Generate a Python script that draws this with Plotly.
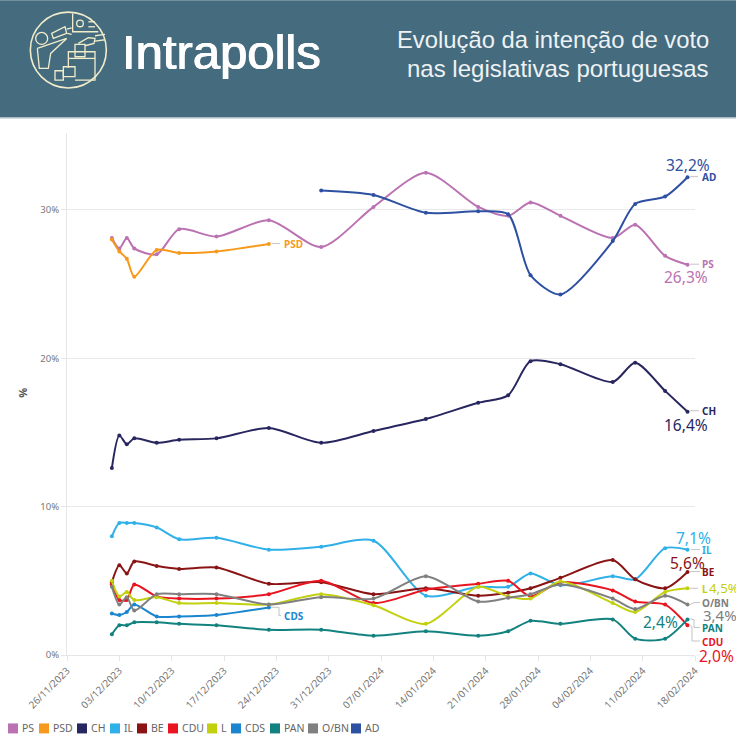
import plotly.graph_objects as go

W, H = 736, 743
X0, X1 = 67, 695
Y0, Y1 = 655.5, 133

dates = ["2023-12-02", "2023-12-03", "2023-12-04", "2023-12-05", "2023-12-08", "2023-12-11",
         "2023-12-16", "2023-12-23", "2023-12-30", "2024-01-06", "2024-01-13", "2024-01-20",
         "2024-01-24", "2024-01-27", "2024-01-31", "2024-02-07", "2024-02-10", "2024-02-14",
         "2024-02-17"]

ps = [28.1, 27.4, 28.1, 27.4, 27.0, 28.7, 28.2, 29.3, 27.5, 30.2, 32.5, 30.2, 29.6, 30.5, 29.6, 28.1, 29.0, 26.9, 26.3]
psd = [28.0, 27.2, 26.7, 25.5, 27.3, 27.1, 27.2, 27.7]
ch = [12.6, 14.8, 14.2, 14.6, 14.3, 14.5, 14.6, 15.3, 14.3, 15.1, 15.9, 17.0, 17.5, 19.8, 19.6, 18.4, 19.7, 17.8, 16.4]
il = [8.0, 8.9, 8.9, 8.9, 8.6, 7.8, 7.9, 7.1, 7.3, 7.7, 4.0, 4.6, 4.6, 5.5, 4.7, 5.3, 5.1, 7.2, 7.1]
be = [4.9, 6.05, 5.5, 6.3, 6.0, 5.8, 5.9, 4.8, 4.9, 4.1, 4.5, 4.0, 4.2, 4.5, 5.2, 6.4, 5.1, 4.5, 5.6]
cdu = [4.75, 3.7, 3.7, 4.75, 3.95, 3.8, 3.8, 4.1, 5.0, 3.5, 4.4, 4.8, 5.0, 3.95, 4.9, 4.35, 3.6, 3.4, 2.0]
l_ = [5.0, 3.95, 4.25, 3.7, 3.9, 3.5, 3.5, 3.4, 4.1, 3.35, 2.1, 4.6, 3.95, 3.8, 4.95, 3.5, 2.9, 4.25, 4.5]
cds = [2.8, 2.7, 2.9, 3.4, 2.6, 2.6, 2.7, 3.2]
pan = [1.4, 2.0, 2.0, 2.2, 2.2, 2.1, 2.0, 1.7, 1.7, 1.3, 1.6, 1.3, 1.6, 2.3, 2.1, 2.4, 1.1, 1.1, 2.4]
obn = [4.6, 3.4, 3.9, 3.0, 4.1, 4.1, 4.1, 3.4, 3.9, 3.8, 5.3, 3.6, 3.85, 4.1, 4.75, 3.8, 3.1, 4.0, 3.4]
ad_dates = dates[8:]
ad = [31.3, 31.0, 29.8, 29.9, 29.7, 25.6, 24.3, 27.9, 30.4, 30.9, 32.2]

y_ticks = [0, 10, 20, 30]
y_labels = ["0%", "10%", "20%", "30%"]

series = [
    ("PS", dates, ps, "#bb72b2"),
    ("PSD", dates[:8], psd, "#f7991c"),
    ("CH", dates, ch, "#27265f"),
    ("IL", dates, il, "#2fb0e8"),
    ("BE", dates, be, "#8a1414"),
    ("CDU", dates, cdu, "#e8141f"),
    ("L", dates, l_, "#c2d00e"),
    ("CDS", dates[:8], cds, "#1b86cf"),
    ("PAN", dates, pan, "#12827f"),
    ("O/BN", dates, obn, "#808080"),
    ("AD", ad_dates, ad, "#2e50a2"),
]
colors = {s[0]: s[3] for s in series}

legend_x = {"PS": 8, "PSD": 39, "CH": 77, "IL": 110, "BE": 137, "CDU": 168,
            "L": 207, "CDS": 231, "PAN": 270, "O/BN": 308, "AD": 351}


def px(x):
    return (x - X0) / (X1 - X0)


def py(y):
    return (Y0 - y) / (Y0 - Y1)


fig = go.Figure()
for name, xs, ys, color in series:
    fig.add_trace(go.Scatter(x=xs, y=ys, name=name, mode="lines+markers",
                             line=dict(color=color, width=2, shape="spline", smoothing=0.75),
                             marker=dict(color=color, size=4), showlegend=False))

shapes = []
annotations = []


def text(x, y, s, color, size, anchor="left", font="Noto Sans", bold=False, shadow=None):
    if bold:
        s = "<b>" + s + "</b>"
    f = dict(family=font, size=size, color=color)
    if shadow:
        f["shadow"] = shadow
    annotations.append(dict(x=px(x), y=py(y), xref="paper", yref="paper", text=s, showarrow=False,
                            xanchor=anchor, yanchor="middle", font=f, borderpad=0))


def path(points, color, width=1.0, close=False):
    d = "M" + " L".join(f"{px(a):.5f},{py(b):.5f}" for a, b in points)
    shapes.append(dict(type="path", xref="paper", yref="paper", path=d + (" Z" if close else ""),
                       line=dict(color=color, width=width), layer="above"))


# header band
shapes.append(dict(type="rect", xref="paper", yref="paper", x0=px(0), x1=px(W), y0=py(0), y1=py(117),
                   fillcolor="#456b7e", line_width=0, layer="below"))
shapes.append(dict(type="rect", xref="paper", yref="paper", x0=px(0), x1=px(W), y0=py(117), y1=py(118.5),
                   fillcolor="#a9bcc6", line_width=0, layer="below"))

CREAM = "#f1edcb"


def logo(points, close=False):
    path([(20 + a / 3, 5 + b / 3) for a, b in points], CREAM, 1.3, close)


def logo_circle(cx, cy, r, width=1.3):
    cx, cy, r = 20 + cx / 3, 5 + cy / 3, r / 3
    shapes.append(dict(type="circle", xref="paper", yref="paper", x0=px(cx - r), x1=px(cx + r),
                       y0=py(cy - r), y1=py(cy + r), line=dict(color=CREAM, width=width), layer="above"))


logo_circle(145, 135, 114, 1.6)
logo_circle(65, 100, 18)
logo_circle(180, 55, 10)
logo([(52, 130), (58, 190), (85, 190), (92, 145), (140, 100), (52, 130)])
logo([(95, 85), (135, 65), (140, 85), (100, 100)], True)
logo([(140, 72), (155, 68)])
logo([(142, 85), (155, 88)])
logo([(158, 25), (158, 80), (235, 80)])
logo([(205, 50), (225, 50)])
logo([(205, 65), (225, 65)])
logo([(145, 160), (145, 140), (225, 140), (225, 225), (165, 225)])
logo([(145, 160), (225, 160)])
logo([(145, 160), (145, 188)])
logo([(165, 118), (195, 118), (195, 155), (165, 155)], True)
logo([(175, 115), (205, 98), (225, 100), (222, 115), (195, 122)])
logo([(225, 92), (255, 88)])
logo([(225, 108), (255, 104)])
logo([(105, 197), (130, 197), (130, 225), (105, 225)], True)
logo([(130, 185), (165, 185), (165, 215), (130, 215)], True)

text(121, 52, "Intrapolls", "#ffffff", 49, font="Liberation Sans", shadow="0.6px 0 0 #ffffff, -0.6px 0 0 #ffffff")
text(710, 39, "Evolução da intenção de voto", "#eef2f4", 23.8, "right", "Liberation Sans")
text(710, 68, "nas legislativas portuguesas", "#eef2f4", 24, "right", "Liberation Sans")

# party labels and their leader lines
GREY = "#c4c4c4"
leaders = [
    [(690, 176.7), (698, 176.7)],
    [(690, 264.3), (699, 264.3)],
    [(690, 411), (699, 411)],
    [(691, 550), (700, 550)],
    [(690, 572), (700, 572)],
    [(690, 588.7), (698, 588.7)],
    [(690, 605), (694, 603), (700, 603)],
    [(690, 619.3), (694, 620), (694, 628), (700, 628)],
    [(689, 625.7), (692, 627), (692, 641.5), (700, 641.5)],
    [(272, 243.7), (280, 243.7)],
    [(271, 607.7), (279, 607.7), (279, 616), (281, 616)],
]
for pts in leaders:
    path(pts, GREY)

party_labels = [("AD", 701, 176.7), ("PS", 701, 264.3), ("CH", 701, 411), ("IL", 701, 550), ("BE", 701, 572),
                ("L", 701, 589), ("O/BN", 701, 603), ("PAN", 701, 628), ("CDU", 701, 642),
                ("PSD", 283, 243.7), ("CDS", 283, 616)]
for name, x, y in party_labels:
    text(x, y, name, colors[name], 10, bold=True)

value_labels = [("32,2%", 688, 165, "AD", "center", 15.5), ("26,3%", 686, 277.5, "PS", "center", 15.5),
                ("16,4%", 686, 425, "CH", "center", 15.5), ("7,1%", 693, 538, "IL", "center", 15.5),
                ("5,6%", 687, 563, "BE", "center", 15.5), ("4,5%", 708, 588, "L", "left", 13.3),
                ("3,4%", 702, 615.5, "O/BN", "left", 15), ("2,4%", 642, 622.5, "PAN", "left", 15.5),
                ("2,0%", 698, 656.5, "CDU", "left", 15.5)]
for s, x, y, name, anchor, size in value_labels:
    text(x, y, s, colors[name], size, anchor)

# legend row
for name, x in legend_x.items():
    shapes.append(dict(type="rect", xref="paper", yref="paper", x0=px(x), x1=px(x + 10), y0=py(724), y1=py(734),
                       fillcolor=colors[name], line_width=0))
    text(x + 12.5, 729, name, "#666666", 10.5)

text(23, 393, "%", "#555555", 11, "center", bold=True)
annotations[-1]["textangle"] = -90

fig.update_layout(
    width=W, height=H, showlegend=False, paper_bgcolor="white", plot_bgcolor="white",
    margin=dict(l=X0, r=W - X1, t=Y1, b=H - Y0, pad=0),
    font=dict(family="Noto Sans", color="#666666"),
    shapes=shapes, annotations=annotations,
)
fig.update_xaxes(type="date", range=["2023-11-26", "2024-02-18"], tick0="2023-11-26", dtick=604800000,
                 tickformat="%d/%m/%Y", tickangle=-45, ticks="outside", ticklen=5, tickcolor="#e6e6e6",
                 showgrid=False, showline=True, linecolor="#e6e6e6", linewidth=1, zeroline=False,
                 tickfont=dict(size=10, color="#777777"))
fig.update_yaxes(range=[0, 35.18], tickvals=y_ticks, ticktext=y_labels, showgrid=True, gridcolor="#e9e9e9",
                 gridwidth=1, showline=True, linecolor="#e6e6e6", linewidth=1, zeroline=False,
                 ticks="outside", ticklen=5, tickcolor="#e6e6e6",
                 tickfont=dict(size=9.5, color="#777777"))

# the page body has a default margin that would push the chart off the window
fig.write_html("out.html", config=dict(displayModeBar=False),
               post_script="document.body.style.margin='0';document.body.style.overflow='hidden';")
